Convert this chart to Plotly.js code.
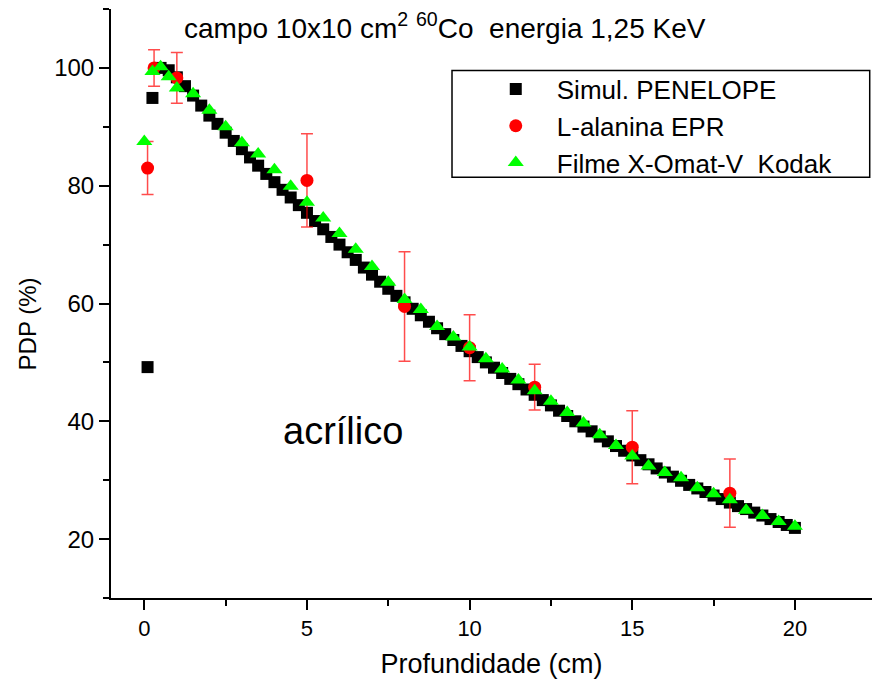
<!DOCTYPE html>
<html>
<head>
<meta charset="utf-8">
<script src="https://cdn.plot.ly/plotly-3.0.1.min.js"></script>
<style>html,body{margin:0;padding:0;background:#fff;}#chart{width:872px;height:681px;}</style>
</head>
<body>
<div id="chart"></div>
<script>
// Simul. PENELOPE
const simX = [0.1, 0.25, 0.5, 0.75, 1.0, 1.25, 1.5, 1.75, 2.0, 2.25, 2.5, 2.75, 3.0, 3.25, 3.5, 3.75, 4.0, 4.25, 4.5, 4.75,
  5.0, 5.25, 5.5, 5.75, 6.0, 6.25, 6.5, 6.75, 7.0, 7.25, 7.5, 7.75, 8.0, 8.25, 8.5, 8.75, 9.0, 9.25, 9.5, 9.75,
  10.0, 10.25, 10.5, 10.75, 11.0, 11.25, 11.5, 11.75, 12.0, 12.25, 12.5, 12.75, 13.0, 13.25, 13.5, 13.75, 14.0, 14.25, 14.5, 14.75,
  15.0, 15.25, 15.5, 15.75, 16.0, 16.25, 16.5, 16.75, 17.0, 17.25, 17.5, 17.75, 18.0, 18.25, 18.5, 18.75, 19.0, 19.25, 19.5, 19.75, 20.0];
const simY = [49.2, 94.9, 100.0, 99.6, 98.4, 96.9, 95.3, 93.6, 91.9, 90.5, 89.0, 87.6, 86.2, 84.8, 83.4, 82.0, 80.6, 79.3, 78.0, 76.7,
  75.4, 74.0, 72.6, 71.3, 70.0, 68.7, 67.4, 66.1, 64.9, 63.7, 62.5, 61.3, 60.2, 59.1, 58.0, 56.9, 55.8, 54.8, 53.8, 52.8,
  51.9, 50.9, 50.0, 49.1, 48.2, 47.2, 46.3, 45.4, 44.5, 43.6, 42.7, 41.8, 40.9, 40.0, 39.1, 38.3, 37.4, 36.6, 35.8, 35.0,
  34.2, 33.4, 32.7, 32.0, 31.3, 30.6, 29.9, 29.2, 28.6, 28.0, 27.4, 26.8, 26.2, 25.6, 25.1, 24.5, 24.0, 23.4, 22.9, 22.4, 21.9];

// L-alanina EPR
const eprX = [0.1, 0.3, 1.0, 5, 8, 10, 12, 15, 18];
const eprY = [83.0, 100.0, 98.3, 80.9, 59.5, 52.5, 45.8, 35.6, 27.8];
const eprErr = [4.5, 3.1, 4.3, 7.9, 9.3, 5.6, 3.9, 6.2, 5.8];

// Filme X-Omat-V Kodak
const filmX = [0, 0.25, 0.5, 0.75, 1.0, 1.5, 2.0, 2.5, 3.0, 3.5, 4.0, 4.5, 5.0, 5.5, 6.0, 6.5, 7.0, 7.5, 8.0, 8.5, 9.0, 9.5,
  10.0, 10.5, 11.0, 11.5, 12.0, 12.5, 13.0, 13.5, 14.0, 14.5, 15.0, 15.5, 16.0, 16.5, 17.0, 17.5, 18.0, 18.5, 19.0, 19.5, 20.0];
const filmY = [87.5, 99.4, 100.2, 98.5, 96.6, 95.6, 92.8, 90.0, 87.3, 85.4, 82.7, 79.9, 77.2, 74.5, 71.9, 69.2, 66.3, 63.6, 60.7, 59.0, 56.1, 54.3,
  52.6, 50.6, 48.9, 47.0, 45.2, 43.4, 41.5, 39.7, 37.7, 35.9, 34.1, 32.4, 31.3, 30.4, 28.7, 27.7, 26.7, 24.9, 24.0, 23.0, 22.2];

const seriesNames = ['Simul. PENELOPE', 'L-alanina EPR', 'Filme X-Omat-V\u00a0 Kodak'];
const xTickVals = [0, 5, 10, 15, 20];
const yTickVals = [20, 40, 60, 80, 100];

const FONT = 'Liberation Sans, Arial, Helvetica, sans-serif';

const traces = [
  {x: simX, y: simY, name: seriesNames[0], type: 'scatter', mode: 'markers',
   marker: {symbol: 'square', size: 12, color: '#000000'}},
  {x: eprX, y: eprY, name: seriesNames[1], type: 'scatter', mode: 'markers',
   marker: {symbol: 'circle', size: 13, color: '#ff0000'},
   error_y: {type: 'data', array: eprErr, visible: true, color: 'rgba(255,0,0,0.7)', thickness: 1.5, width: 6}},
  {x: filmX, y: filmY, name: seriesNames[2], type: 'scatter', mode: 'markers',
   marker: {symbol: 'triangle-up', size: 14, color: '#00ff00'}}
];

const layout = {
  width: 872, height: 681,
  margin: {l: 111, r: 0, t: 9, b: 83, pad: 0},
  paper_bgcolor: '#ffffff', plot_bgcolor: '#ffffff',
  font: {family: FONT, color: '#000000'},
  showlegend: true,
  legend: {x: 0.478, y: 0.904, xanchor: 'left', yanchor: 'top', bgcolor: 'rgba(0,0,0,0)', borderwidth: 0,
           font: {size: 26, family: FONT, color: '#000'}, itemwidth: 72, tracegroupgap: 0},
  xaxis: {range: [-1.024, 22.37], showgrid: false, zeroline: false, showline: true, linecolor: '#000', linewidth: 2,
          ticks: 'outside', ticklen: 10, tickwidth: 2, tickcolor: '#000', tickvals: xTickVals,
          tickfont: {size: 22, family: FONT},
          minor: {dtick: 2.5, tick0: 0, ticks: 'outside', ticklen: 6, tickwidth: 2, tickcolor: '#000', showgrid: false},
          title: {text: 'Profundidade (cm)', font: {size: 27, family: FONT}, standoff: 14}},
  yaxis: {range: [10, 110], showgrid: false, zeroline: false, showline: true, linecolor: '#000', linewidth: 2,
          ticks: 'outside', ticklen: 10, tickwidth: 2, tickcolor: '#000', tickvals: yTickVals,
          tickfont: {size: 24, family: FONT},
          minor: {dtick: 10, tick0: 0, ticks: 'outside', ticklen: 6, tickwidth: 2, tickcolor: '#000', showgrid: false},
          title: {text: ''}},
  shapes: [
    {type: 'rect', xref: 'paper', yref: 'paper', x0: 0.4481, x1: 0.997, y0: 0.7145, y1: 0.8955,
     line: {color: '#000', width: 1.5}, fillcolor: 'rgba(0,0,0,0)', layer: 'below'}
  ],
  annotations: [
    {text: 'campo 10x10 cm<sup>2</sup> <sup>60</sup>Co\u00a0 energia 1,25 KeV', xref: 'paper', yref: 'paper',
     x: 0.0935, y: 0.971, xanchor: 'left', yanchor: 'middle', showarrow: false, font: {size: 28, family: FONT}},
    {text: 'acrílico', xref: 'x', yref: 'y', x: 6.1, y: 38.3, xanchor: 'center', yanchor: 'middle',
     showarrow: false, font: {size: 38, family: FONT}},
    {text: 'PDP (%)', xref: 'paper', yref: 'paper', x: -0.11, y: 0.465, xanchor: 'center', yanchor: 'middle',
     textangle: -90, showarrow: false, font: {size: 24, family: FONT}}
  ]
};

Plotly.newPlot('chart', traces, layout, {displayModeBar: false, staticPlot: true});
</script>
</body>
</html>
